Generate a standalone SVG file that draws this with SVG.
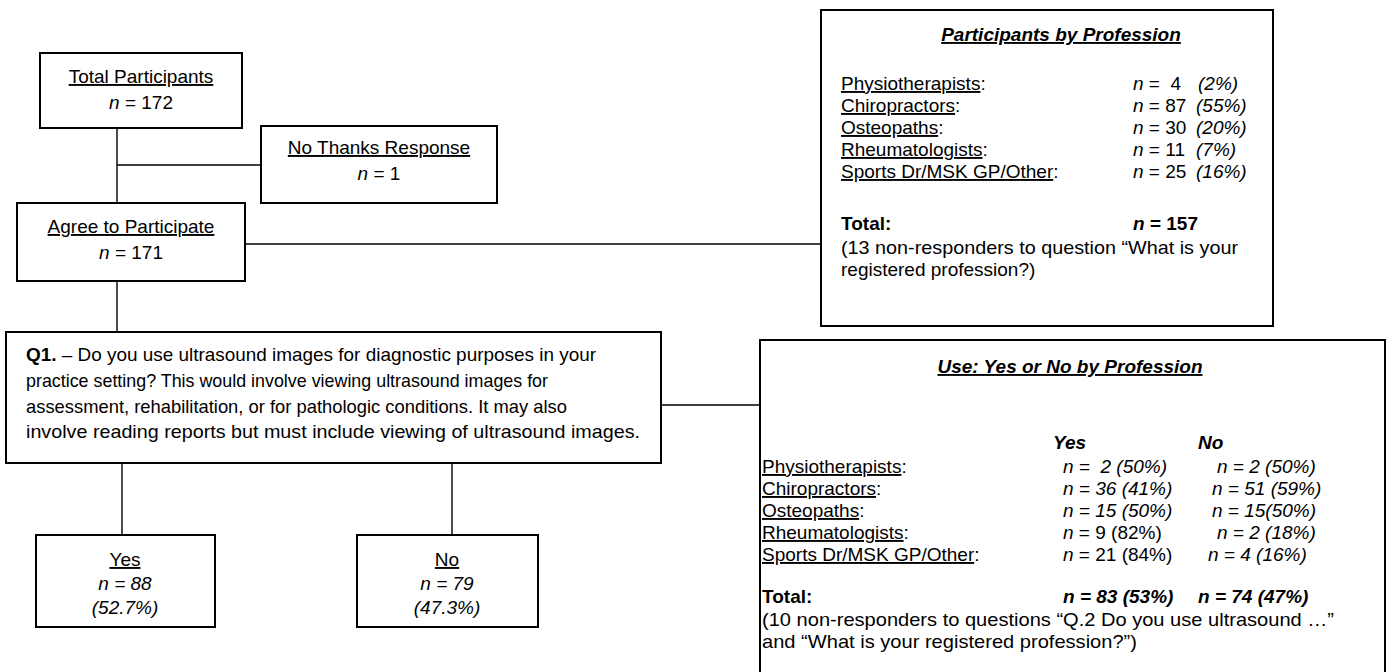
<svg xmlns="http://www.w3.org/2000/svg" width="1393" height="672" viewBox="0 0 1393 672">
  <style>
    text { font-family: "Liberation Sans", Arial, sans-serif; font-size: 19px; fill: #000; white-space: pre; }
    .box { fill: #fff; stroke: #000; stroke-width: 2; }
    .ln { stroke: #000; stroke-width: 1.4; fill: none; }
    .u { text-decoration: underline; }
    .i { font-style: italic; }
    .b { font-weight: bold; }
    .c { text-anchor: middle; }
  </style>
  <rect width="1393" height="672" fill="#fff"/>

  <!-- connectors -->
  <g id="connectors">
    <line class="ln" x1="117" y1="128" x2="117" y2="203"/>
    <line class="ln" x1="117" y1="165" x2="261" y2="165"/>
    <line class="ln" x1="245" y1="244" x2="821" y2="244"/>
    <line class="ln" x1="117" y1="281" x2="117" y2="332"/>
    <line class="ln" x1="661" y1="405" x2="760" y2="405"/>
    <line class="ln" x1="122" y1="463" x2="122" y2="535"/>
    <line class="ln" x1="452" y1="463" x2="452" y2="535"/>
  </g>

  <g id="total">
    <rect class="box" x="40" y="53" width="202" height="75"/>
    <text class="c" x="141" y="83"><tspan class="u">Total Participants</tspan></text>
    <text class="c" x="141" y="109"><tspan class="i">n</tspan> = 172</text>
  </g>

  <g id="no-thanks">
    <rect class="box" x="261" y="126" width="236" height="77"/>
    <text class="c" x="379" y="154"><tspan class="u">No Thanks Response</tspan></text>
    <text class="c" x="379" y="180"><tspan class="i">n</tspan> = 1</text>
  </g>

  <g id="agree">
    <rect class="box" x="17" y="203" width="228" height="78"/>
    <text class="c" x="131" y="233"><tspan class="u">Agree to Participate</tspan></text>
    <text class="c" x="131" y="259"><tspan class="i">n</tspan> = 171</text>
  </g>

  <g id="by-profession">
    <rect class="box" x="821" y="10" width="452" height="316"/>
    <text class="c b i" x="1061" y="41"><tspan class="u">Participants by Profession</tspan></text>
    <text x="841" y="90"><tspan class="u">Physiotherapists</tspan>:</text>
    <text x="841" y="112"><tspan class="u">Chiropractors</tspan>:</text>
    <text x="841" y="134"><tspan class="u">Osteopaths</tspan>:</text>
    <text x="841" y="156"><tspan class="u">Rheumatologists</tspan>:</text>
    <text x="841" y="178"><tspan class="u">Sports Dr/MSK GP/Other</tspan>:</text>
    <text x="1133" y="90" xml:space="preserve"><tspan class="i">n</tspan> =  4</text>
    <text x="1133" y="112"><tspan class="i">n</tspan> = 87</text>
    <text x="1133" y="134"><tspan class="i">n</tspan> = 30</text>
    <text x="1133" y="156"><tspan class="i">n</tspan> = 11</text>
    <text x="1133" y="178"><tspan class="i">n</tspan> = 25</text>
    <text class="i" x="1198" y="90">(2%)</text>
    <text class="i" x="1196" y="112">(55%)</text>
    <text class="i" x="1196" y="134">(20%)</text>
    <text class="i" x="1196" y="156">(7%)</text>
    <text class="i" x="1196" y="178">(16%)</text>
    <text class="b" x="841" y="230">Total:</text>
    <text class="b" x="1133" y="230"><tspan class="i">n</tspan> = 157</text>
    <text x="841" y="254" textLength="397" lengthAdjust="spacingAndGlyphs">(13 non-responders to question “What is your</text>
    <text x="841" y="276">registered profession?)</text>
  </g>

  <g id="q1">
    <rect class="box" x="6" y="332" width="655" height="131"/>
    <text x="26" y="361" textLength="570" lengthAdjust="spacingAndGlyphs"><tspan class="b">Q1.</tspan> – Do you use ultrasound images for diagnostic purposes in your</text>
    <text x="26" y="387" textLength="522" lengthAdjust="spacingAndGlyphs">practice setting? This would involve viewing ultrasound images for</text>
    <text x="26" y="413" textLength="541" lengthAdjust="spacingAndGlyphs">assessment, rehabilitation, or for pathologic conditions. It may also</text>
    <text x="26" y="438" textLength="614" lengthAdjust="spacingAndGlyphs">involve reading reports but must include viewing of ultrasound images.</text>
  </g>

  <g id="use-by-profession">
    <rect class="box" x="760" y="340" width="625" height="340"/>
    <text class="c b i" x="1070" y="373"><tspan class="u">Use: Yes or No by Profession</tspan></text>
    <text class="b i" x="1053" y="449">Yes</text>
    <text class="b i" x="1198" y="449">No</text>
    <text x="762" y="473"><tspan class="u">Physiotherapists</tspan>:</text>
    <text x="762" y="495"><tspan class="u">Chiropractors</tspan>:</text>
    <text x="762" y="517"><tspan class="u">Osteopaths</tspan>:</text>
    <text x="762" y="539"><tspan class="u">Rheumatologists</tspan>:</text>
    <text x="762" y="561"><tspan class="u">Sports Dr/MSK GP/Other</tspan>:</text>
    <text class="i" x="1063" y="473" xml:space="preserve">n =  2 (50%)</text>
    <text class="i" x="1063" y="495">n = 36 (41%)</text>
    <text class="i" x="1063" y="517">n = 15 (50%)</text>
    <text x="1063" y="539"><tspan class="i">n</tspan> = 9 (82%)</text>
    <text x="1063" y="561"><tspan class="i">n</tspan> = 21 (84%)</text>
    <text class="i" x="1217" y="473">n = 2 (50%)</text>
    <text class="i" x="1212" y="495">n = 51 (59%)</text>
    <text class="i" x="1212" y="517">n = 15(50%)</text>
    <text class="i" x="1217" y="539">n = 2 (18%)</text>
    <text class="i" x="1208" y="561">n = 4 (16%)</text>
    <text class="b" x="762" y="603">Total:</text>
    <text class="b i" x="1063" y="603">n = 83 (53%)</text>
    <text class="b i" x="1198" y="603">n = 74 (47%)</text>
    <text x="762" y="626" textLength="572" lengthAdjust="spacingAndGlyphs">(10 non-responders to questions “Q.2 Do you use ultrasound …”</text>
    <text x="762" y="648" textLength="375" lengthAdjust="spacingAndGlyphs">and “What is your registered profession?”)</text>
  </g>

  <g id="yes">
    <rect class="box" x="36" y="535" width="179" height="92"/>
    <text class="c" x="125" y="566"><tspan class="u">Yes</tspan></text>
    <text class="c i" x="125" y="590">n = 88</text>
    <text class="c i" x="125" y="614">(52.7%)</text>
  </g>

  <g id="no">
    <rect class="box" x="357" y="535" width="181" height="92"/>
    <text class="c" x="447" y="566"><tspan class="u">No</tspan></text>
    <text class="c i" x="447" y="590">n = 79</text>
    <text class="c i" x="447" y="614">(47.3%)</text>
  </g>
</svg>
